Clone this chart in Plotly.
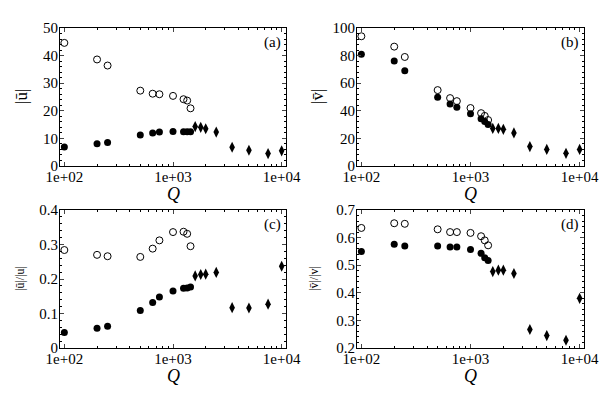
import plotly.graph_objects as go
from plotly.subplots import make_subplots

# Q values
q_circ = [100, 200, 250, 500, 650, 750, 1000, 1250, 1350, 1450]
q_diam = [1600, 1800, 2000, 2500, 3500, 5000, 7500, 10000]

# (a) |u bar|
a_open = [44.6, 38.6, 36.4, 27.3, 26.2, 26.0, 25.4, 24.2, 23.7, 20.9]
a_fill = [6.9, 8.1, 8.5, 11.2, 12.0, 12.3, 12.5, 12.4, 12.4, 12.4]
a_diam = [14.3, 14.0, 13.5, 12.3, 6.8, 5.7, 4.5, 5.5]

# (b) |v bar|
b_open = [94.0, 86.5, 79.0, 55.0, 49.2, 47.0, 42.0, 38.3, 36.3, 33.3]
b_fill = [81.0, 76.0, 69.0, 49.8, 45.0, 42.5, 37.8, 34.3, 32.3, 30.0]
b_diam = [27.2, 27.2, 26.6, 24.0, 14.1, 12.0, 9.2, 12.0]

# (c) |u bar| / |u|
c_open = [0.284, 0.270, 0.266, 0.264, 0.288, 0.312, 0.336, 0.337, 0.331, 0.295]
c_fill = [0.045, 0.057, 0.063, 0.109, 0.132, 0.148, 0.165, 0.173, 0.174, 0.177]
c_diam = [0.209, 0.213, 0.214, 0.219, 0.117, 0.116, 0.127, 0.237]

# (d) |v bar| / |v|
d_open = [0.635, 0.652, 0.650, 0.630, 0.620, 0.620, 0.617, 0.605, 0.590, 0.572]
d_fill = [0.550, 0.576, 0.570, 0.570, 0.566, 0.566, 0.557, 0.543, 0.527, 0.517]
d_diam = [0.477, 0.482, 0.482, 0.470, 0.267, 0.245, 0.228, 0.380]

panels = [
    ("(a)", a_open, a_fill, a_diam, [0, 50], 10, "|ū|", 17),
    ("(b)", b_open, b_fill, b_diam, [0, 100], 20, "|v̄|", 17),
    ("(c)", c_open, c_fill, c_diam, [0, 0.4], 0.1, "|ū|/|u|", 12),
    ("(d)", d_open, d_fill, d_diam, [0.2, 0.7], 0.1, "|v̄|/|v|", 12),
]

W, H = 610, 395
FONT = "Liberation Serif, Times New Roman, serif"

fig = make_subplots(rows=2, cols=2)

# plot boxes in pixels: left, right, top, bottom
boxes = [(60, 286, 28, 166), (357, 584, 28, 166),
         (60, 286, 210, 348), (357, 584, 210, 348)]
title_x = [22, 318, 20, 314]

minor_q = [m * 10 ** e for e in (2, 3) for m in range(2, 10)]

for i, (lab, yo, yf, yd, yr, dt, ytitle, tsize) in enumerate(panels):
    row, col = i // 2 + 1, i % 2 + 1
    fig.add_trace(go.Scatter(x=q_circ, y=yo, mode="markers",
                             marker=dict(symbol="circle-open", size=7, color="black",
                                         line=dict(width=1, color="black"))),
                  row=row, col=col)
    fig.add_trace(go.Scatter(x=q_circ, y=yf, mode="markers",
                             marker=dict(symbol="circle", size=7, color="black")),
                  row=row, col=col)
    fig.add_trace(go.Scatter(x=q_diam, y=yd, mode="markers",
                             marker=dict(symbol="diamond-tall", size=8, color="black")),
                  row=row, col=col)

    l, r, t, b = boxes[i]
    xa = "xaxis" if i == 0 else f"xaxis{i + 1}"
    ya = "yaxis" if i == 0 else f"yaxis{i + 1}"
    fig.layout[xa].update(
        domain=[l / W, r / W], type="log", range=[1.96, 4.04], automargin=False,
        tickmode="array", tickvals=[100, 1000, 10000],
        ticktext=["1e+02", "1e+03", "1e+04"], ticklabelstandoff=-3,
        ticks="inside", ticklen=4, showline=True, linecolor="black", linewidth=1,
        mirror="ticks", showgrid=False, zeroline=False,
        minor=dict(tickmode="array", tickvals=minor_q, ticks="inside", ticklen=2,
                   tickcolor="black", showgrid=False),
        tickfont=dict(family=FONT, size=15, color="black"),
    )
    fig.layout[ya].update(
        domain=[1 - b / H, 1 - t / H], range=yr, dtick=dt, tick0=0, automargin=False,
        ticklabelstandoff=-2,
        ticks="inside", ticklen=4, showline=True, linecolor="black", linewidth=1,
        mirror="ticks", showgrid=False, zeroline=False,
        minor=dict(dtick=dt / 5, ticks="inside", ticklen=2, tickcolor="black",
                   showgrid=False),
        tickfont=dict(family=FONT, size=15, color="black"),
    )
    xref = "x domain" if i == 0 else f"x{i + 1} domain"
    yref = "y domain" if i == 0 else f"y{i + 1} domain"
    fig.add_annotation(text=lab, x=0.985, y=0.97, xref=xref, yref=yref,
                       xanchor="right", yanchor="top", showarrow=False,
                       font=dict(family=FONT, size=15, color="black"))
    # y-axis title
    fig.add_annotation(text=ytitle, x=title_x[i] / W, y=1 - (t + b) / 2 / H,
                       xref="paper", yref="paper", textangle=-90,
                       xanchor="center", yanchor="middle", showarrow=False,
                       font=dict(family=FONT, size=tsize, color="black"))
    # x-axis title
    fig.add_annotation(text="<i>Q</i>", x=(l + r) / 2 / W, y=1 - (b + 28) / H,
                       xref="paper", yref="paper",
                       xanchor="center", yanchor="middle", showarrow=False,
                       font=dict(family=FONT, size=18, color="black"))

fig.update_layout(width=W, height=H, showlegend=False,
                  margin=dict(l=0, r=0, t=0, b=0),
                  paper_bgcolor="white", plot_bgcolor="white")

# drop the default 8px page margin so the figure sits at the window corner
fig.write_html("out.html", config={"displayModeBar": False},
               post_script="document.body.style.margin = '0';")
